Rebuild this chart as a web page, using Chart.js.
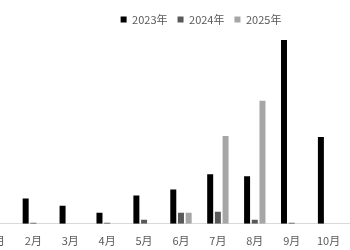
<!DOCTYPE html>
<html><head><meta charset="utf-8">
<script src="https://cdn.jsdelivr.net/npm/chart.js@4"></script>
<style>
html,body{margin:0;padding:0;background:#fff;overflow:hidden;width:350px;height:250px;}
#wrap{position:absolute;left:-22px;top:0;width:446px;height:259px;}
</style></head><body>
<div id="wrap"><canvas id="c"></canvas></div>
<script>
const categories = ['1月','2月','3月','4月','5月','6月','7月','8月','9月','10月','11月','12月'];
const seriesNames = ['2023年','2024年','2025年'];
const v2023 = [null, 25, 18, 11, 28, 34, 49, 47, 182, 86, null, null];
const v2024 = [null, 1, 0, 1, 4, 11, 12, 4, 1, 0, null, null];
const v2025 = [null, 0, 0, 0, 0, 11, 87, 122, 0, 0, null, null];
const colors = ['#000000','#595959','#a6a6a6'];
const FONT = "'Noto Sans CJK JP', 'Noto Sans', sans-serif";

new Chart(document.getElementById('c'), {
  type: 'bar',
  data: {
    labels: categories,
    datasets: [v2023, v2024, v2025].map((d, i) => ({
      label: seriesNames[i], data: d, backgroundColor: colors[i],
      borderWidth: 0, barPercentage: 0.78, categoryPercentage: 0.625
    }))
  },
  options: {
    responsive: true, maintainAspectRatio: false, animation: false,
    layout: { padding: { left: 0, right: 0, top: 4, bottom: 2 } },
    plugins: {
      tooltip: { enabled: false },
      legend: {
        position: 'top',
        labels: { boxWidth: 6, boxHeight: 6, color: '#595959', padding: 10,
          font: { family: FONT, size: 11 } }
      }
    },
    scales: {
      x: {
        grid: { display: false, drawTicks: false },
        border: { color: '#d9d9d9', width: 1 },
        ticks: { color: '#595959', padding: 10, maxRotation: 0, autoSkip: false,
          font: { family: FONT, size: 11 } }
      },
      y: { display: false, min: 0, max: 187 }
    }
  }
});
</script></body></html>
